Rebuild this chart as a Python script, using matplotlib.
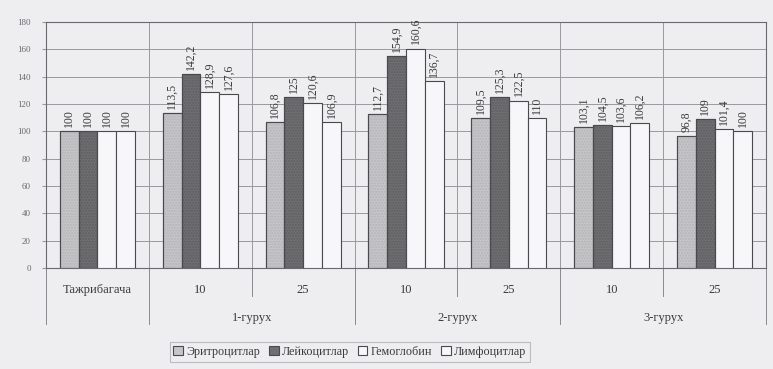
import matplotlib
matplotlib.use("Agg")
import matplotlib.pyplot as plt
import numpy as np
from matplotlib.transforms import blended_transform_factory

plt.rcParams['font.family'] = ['Liberation Serif', 'DejaVu Serif']

categories = ["Тажрибагача", "10", "25", "10", "25", "10", "25"]
groups = ["1-гурух", "2-гурух", "3-гурух"]
series_names = ["Эритроцитлар", "Лейкоцитлар", "Гемоглобин", "Лимфоцитлар"]
erythrocytes = [100, 113.5, 106.8, 112.7, 109.5, 103.1, 96.8]
leukocytes = [100, 142.2, 125, 154.9, 125.3, 104.5, 109]
hemoglobin = [100, 128.9, 120.6, 160.6, 122.5, 103.6, 101.4]
lymphocytes = [100, 127.6, 106.9, 136.7, 110, 106.2, 100]
y_ticks = [0, 20, 40, 60, 80, 100, 120, 140, 160, 180]

series = [erythrocytes, leukocytes, hemoglobin, lymphocytes]
colors = ["#c6c6c8", "#6f6f72", "#f7f7f9", "#f7f7f9"]
dot_colors = ["#b4b4b7", "#5e5e61", None, None]

bg = "#eeeef1"
text_c = "#3a3a3a"
grid_c = "#9a9a9e"

fig = plt.figure(figsize=(7.73, 3.69), dpi=100, facecolor=bg)
ax = fig.add_axes([46 / 773, 1 - 268 / 369, 720 / 773, 246 / 369])
ax.set_facecolor(bg)

x = np.arange(len(categories))
bw = 0.73 / 4
for i, (vals, col, dc) in enumerate(zip(series, colors, dot_colors)):
    pos = x - 0.365 + bw * (i + 0.5)
    bars = ax.bar(pos, vals, width=bw, color=col, edgecolor="#4a4a4e",
                  linewidth=0.8, label=series_names[i], zorder=3)
    if dc is not None:
        # fine stipple texture inside the filled bars
        ax.bar(pos, vals, width=bw, color="none", edgecolor=dc,
               linewidth=0, hatch="......", zorder=3.5)
        ax.bar(pos, vals, width=bw, color="none", edgecolor="#4a4a4e",
               linewidth=0.8, zorder=3.6)
    for b, v in zip(bars, vals):
        ax.text(b.get_x() + b.get_width() / 2, v + 3,
                f"{v:g}".replace(".", ","), rotation=90, ha="center",
                va="bottom", fontsize=8.5, color=text_c, zorder=4)

ax.set_xlim(-0.5, len(categories) - 0.5)
ax.set_ylim(0, 180)
ax.set_yticks(y_ticks)
ax.set_yticklabels([str(t) for t in y_ticks], fontsize=6.5, color="#6a6a6e")
ax.tick_params(axis="y", length=3, color=grid_c, pad=8)
ax.set_xticks([])
ax.yaxis.grid(True, color=grid_c, linewidth=0.7, zorder=0)
for s in ax.spines.values():
    s.set_color("#6a6a6e")
    s.set_linewidth(0.8)

# vertical separators between categories, extending into the label rows
tr = blended_transform_factory(ax.transData, ax.transAxes)
row1 = (268 - 290) / 246
row2 = (268 - 318) / 246
short_end = (268 - 296) / 246
long_end = (268 - 324) / 246
for k in range(len(categories) + 1):
    xb = k - 0.5
    if 0 < k < len(categories):
        ax.plot([xb, xb], [0, 1], transform=tr, color=grid_c, lw=0.7,
                zorder=1)
    end = short_end if k in (2, 4, 6) else long_end
    ax.plot([xb, xb], [0, end], transform=tr, color="#8a8a8e", lw=0.7,
            clip_on=False, zorder=1)

for k, c in enumerate(categories):
    ax.text(k, row1, c, transform=tr, ha="center", va="center",
            fontsize=9, color=text_c)
for g, name in enumerate(groups):
    ax.text(1.5 + 2 * g, row2, name, transform=tr, ha="center",
            va="center", fontsize=9, color=text_c)

leg = fig.legend(loc="center", bbox_to_anchor=(350 / 773, 1 - 352 / 369),
                 ncol=4, fontsize=8.7, handlelength=0.8, handleheight=0.8,
                 handletextpad=0.3, columnspacing=0.7, frameon=True,
                 fancybox=False, borderpad=0.3, labelcolor=text_c)
leg.get_frame().set_edgecolor("#b0b0b4")
leg.get_frame().set_facecolor(bg)
leg.get_frame().set_linewidth(0.8)

fig.savefig("out.png", dpi=100, facecolor=bg)
